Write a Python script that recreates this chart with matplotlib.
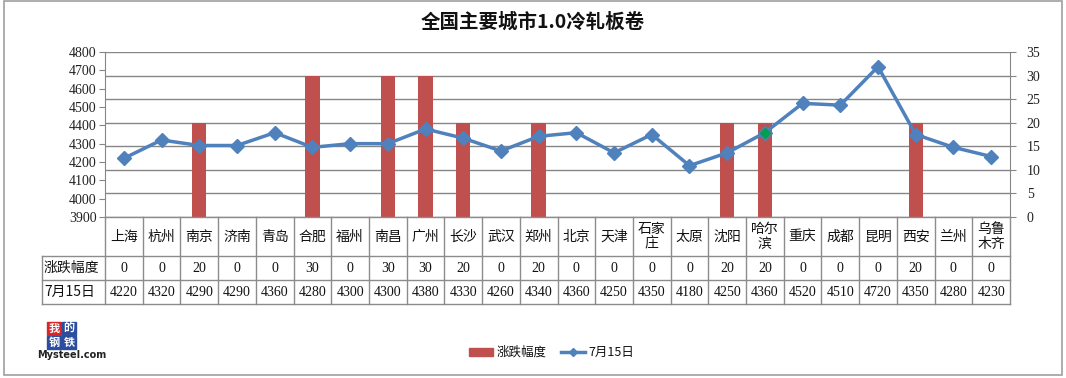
import matplotlib
matplotlib.use("Agg")
import matplotlib.pyplot as plt
from matplotlib.patches import Rectangle
from matplotlib.lines import Line2D

plt.rcParams['font.family'] = ['Noto Sans CJK SC', 'DejaVu Sans']

title = "全国主要城市1.0冷轧板卷"
cities = ["上海", "杭州", "南京", "济南", "青岛", "合肥", "福州", "南昌", "广州", "长沙",
          "武汉", "郑州", "北京", "天津", "石家\n庄", "太原", "沈阳", "哈尔\n滨", "重庆",
          "成都", "昆明", "西安", "兰州", "乌鲁\n木齐"]
change = [0, 0, 20, 0, 0, 30, 0, 30, 30, 20, 0, 20, 0, 0, 0, 0, 20, 20, 0, 0, 0, 20, 0, 0]
price = [4220, 4320, 4290, 4290, 4360, 4280, 4300, 4300, 4380, 4330, 4260, 4340, 4360,
         4250, 4350, 4180, 4250, 4360, 4520, 4510, 4720, 4350, 4280, 4230]
series_names = ["涨跌幅度", "7月15日"]
left_ticks = list(range(3900, 4801, 100))
right_ticks = list(range(0, 36, 5))

W, H = 1066, 378
fig = plt.figure(figsize=(W / 100, H / 100), dpi=100)

BAR_C = "#C0504D"
LINE_C = "#4F81BD"
GRID_C = "#868686"
NUM_FONT = ['Liberation Serif', 'DejaVu Serif']

def fx(px):
    return px / W

def fy(py):
    return 1 - py / H

# outer chart border
fig.patches.append(Rectangle((fx(4), fy(375)), fx(1062) - fx(4), fy(1) - fy(375),
                             transform=fig.transFigure, fill=False, ec="#A0A0A0", lw=1.2))

L, R, T, B = 105, 1010, 52, 217
n = len(cities)
axr = fig.add_axes([fx(L), fy(B), fx(R) - fx(L), fy(T) - fy(B)])
axl = axr.twinx()
axl.yaxis.tick_left()
axr.yaxis.tick_right()
axl.set_zorder(axr.get_zorder() + 1)
axl.patch.set_visible(False)

x = list(range(n))
axr.bar(x, change, width=0.38, color=BAR_C, zorder=3)
axr.set_ylim(0, 35)
axr.set_yticks(right_ticks)
axr.set_xlim(-0.5, n - 0.5)
axr.grid(axis='y', color=GRID_C, lw=1.0, zorder=0)
axr.set_axisbelow(True)
axr.set_xticks([])

axl.plot(x, price, color=LINE_C, lw=2.5, marker='D', ms=7, mfc=LINE_C, mec=LINE_C, zorder=5)
hx = 17
axl.plot([x[hx]], [price[hx]], marker='D', ms=5.5, color="#00A050", ls='none', zorder=6)
axl.set_ylim(3900, 4800)
axl.set_yticks(left_ticks)
axl.set_xlim(-0.5, n - 0.5)
axl.set_xticks([])

for a in (axl, axr):
    for s in a.spines.values():
        s.set_visible(False)
axl.spines['left'].set_visible(True)
axl.spines['left'].set_color(GRID_C)
axr.spines['right'].set_visible(True)
axr.spines['right'].set_color(GRID_C)
axl.tick_params(axis='y', which='both', left=True, right=False, labelleft=True, labelright=False,
                color=GRID_C, length=4, labelsize=10, pad=2)
axr.tick_params(axis='y', which='both', right=True, left=False, labelright=True, labelleft=False,
                color=GRID_C, length=4, labelsize=10, pad=8)
for lab in axl.get_yticklabels() + axr.get_yticklabels():
    lab.set_family(NUM_FONT)
    lab.set_color("#222222")

# title
fig.text(fx(533), fy(22), title, ha='center', va='center', fontsize=14, fontweight='bold',
         color="#111111")

# data table
colw = (R - L) / n
TB_C = "#8C8C8C"
r1, r2, r3 = 256, 280, 304
LBL = 42
def hline(y, x0, x1):
    fig.add_artist(Line2D([fx(x0), fx(x1)], [fy(y), fy(y)], transform=fig.transFigure, color=TB_C, lw=1))
def vline(xp, y0, y1):
    fig.add_artist(Line2D([fx(xp), fx(xp)], [fy(y0), fy(y1)], transform=fig.transFigure, color=TB_C, lw=1))

hline(B, L, R)
hline(r1, LBL, R)
hline(r2, LBL, R)
hline(r3, LBL, R)
vline(LBL, r1, r3)
for i in range(n + 1):
    vline(L + i * colw, B, r3)

for i in range(n):
    cx = L + (i + 0.5) * colw
    fig.text(fx(cx), fy((B + r1) / 2), cities[i], ha='center', va='center', fontsize=10,
             linespacing=1.05, color="#111111")
    fig.text(fx(cx), fy((r1 + r2) / 2), str(change[i]), ha='center', va='center', fontsize=10,
             family=NUM_FONT, color="#111111")
    fig.text(fx(cx), fy((r2 + r3) / 2), str(price[i]), ha='center', va='center', fontsize=10,
             family=NUM_FONT, color="#111111")
fig.text(fx(LBL + 2), fy((r1 + r2) / 2), series_names[0], ha='left', va='center', fontsize=10, color="#111111")
fig.text(fx(LBL + 2), fy((r2 + r3) / 2), series_names[1], ha='left', va='center', fontsize=10, color="#111111")

# legend
ly = 352
fig.patches.append(Rectangle((fx(469), fy(ly + 4)), fx(24), fy(0) - fy(8),
                             transform=fig.transFigure, color=BAR_C))
fig.text(fx(497), fy(ly), series_names[0], ha='left', va='center', fontsize=9, color="#111111")
fig.add_artist(Line2D([fx(561), fx(585)], [fy(ly), fy(ly)], transform=fig.transFigure,
                      color=LINE_C, lw=2.5))
fig.add_artist(Line2D([fx(573)], [fy(ly)], transform=fig.transFigure, color=LINE_C,
                      marker='D', ms=4, ls='none'))
fig.text(fx(588), fy(ly), series_names[1], ha='left', va='center', fontsize=9, color="#111111")

# Mysteel logo
logo = [("我", 47, 322, "#D9262B"), ("的", 62, 322, "#2B4F9E"),
        ("钢", 47, 336, "#2B4F9E"), ("铁", 62, 336, "#2B4F9E")]
for ch, lx, ty, c in logo:
    fig.patches.append(Rectangle((fx(lx), fy(ty + 13)), fx(14), fy(0) - fy(13),
                                 transform=fig.transFigure, color=c))
    fig.text(fx(lx + 7), fy(ty + 6.5), ch, ha='center', va='center', fontsize=8,
             color="white", fontweight='bold')
fig.text(fx(37), fy(355), "Mysteel.com", ha='left', va='center', fontsize=7,
         fontweight='bold', family=['DejaVu Sans'], color="#222222")

fig.savefig("out.png", dpi=100)
